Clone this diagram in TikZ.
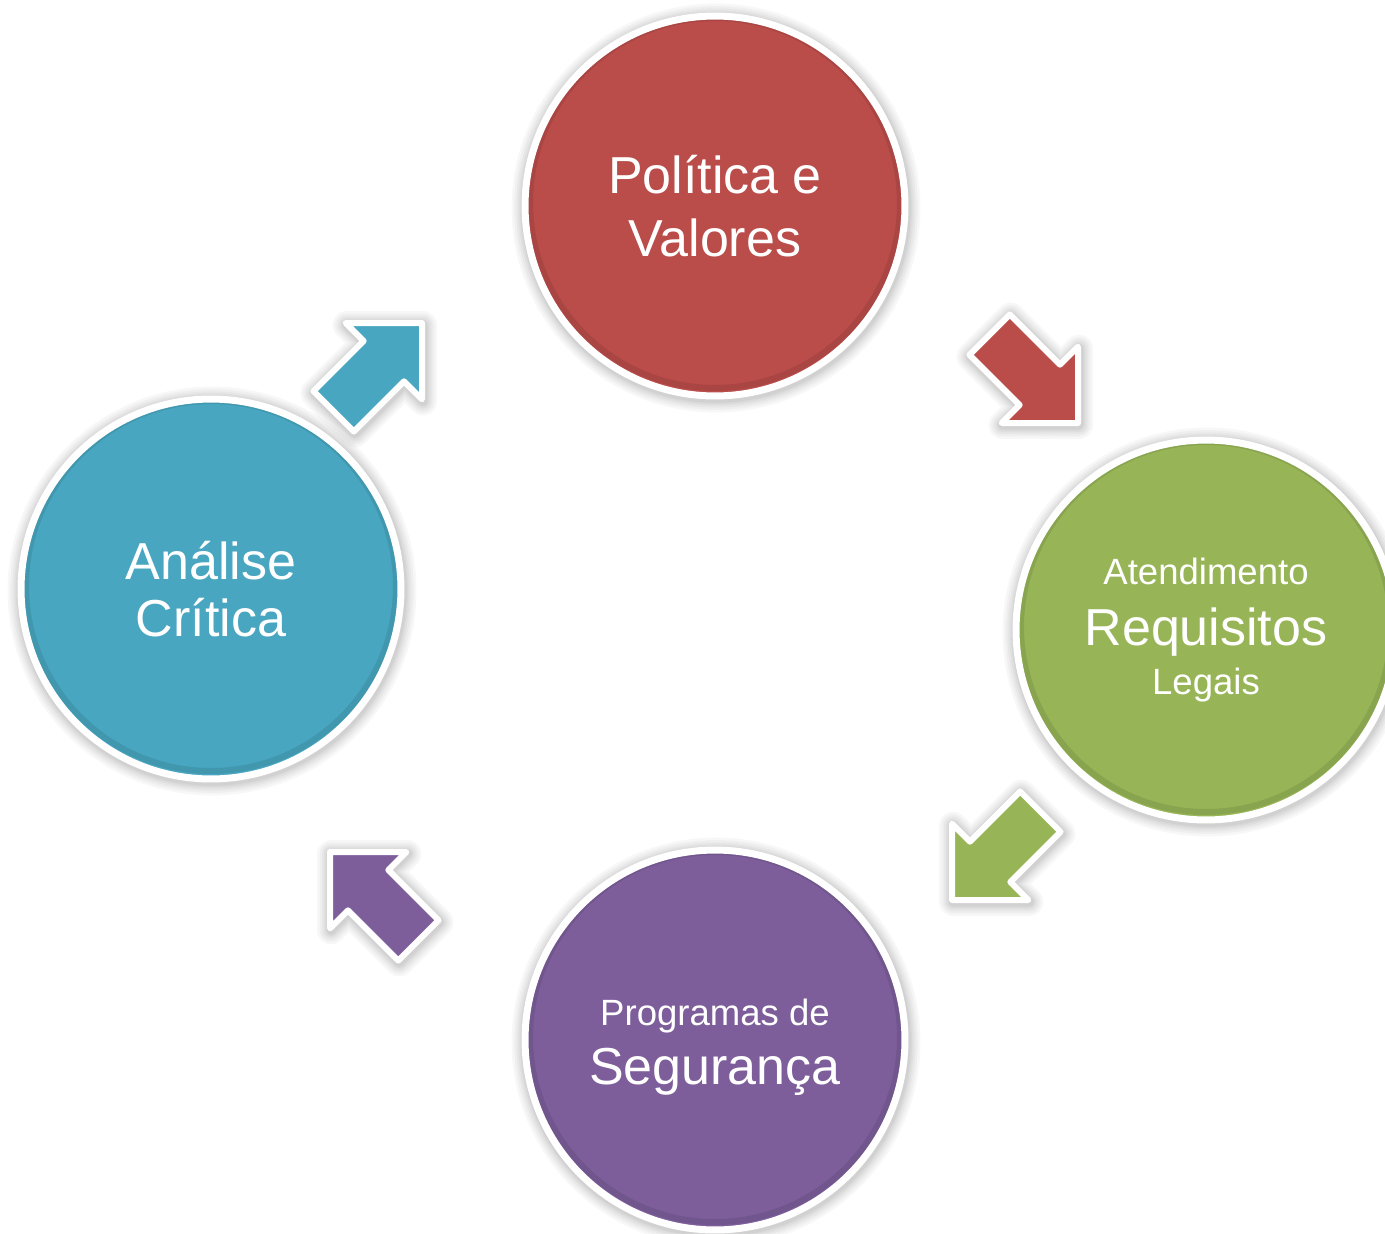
\documentclass[tikz,border=0pt]{standalone}
\usepackage{fontspec}
\setmainfont{Liberation Sans}
\usetikzlibrary{shapes.arrows}

\definecolor{polred}{RGB}{186,76,74}
\definecolor{reqgreen}{RGB}{151,181,87}
\definecolor{segpurple}{RGB}{125,94,155}
\definecolor{anablue}{RGB}{72,166,192}

\tikzset{
  halo ring/.style={preaction={draw=black, draw opacity=0.03, line width=#1, line join=round, transform canvas={xshift=0.02cm, yshift=-0.04cm}}},
  soft halo/.style={halo ring=#1+0.44cm, halo ring=#1+0.34cm, halo ring=#1+0.25cm, halo ring=#1+0.17cm, halo ring=#1+0.10cm, halo ring=#1+0.05cm}
}

\begin{document}
\begin{tikzpicture}[x=0.02cm, y=-0.02cm,
  stage node/.style={circle, draw=white, line width=0.14cm, minimum size=7.6cm, inner sep=0pt, text=white, align=center, soft halo=0.14cm,
    path picture={\draw[black, opacity=0.09, line width=0.12cm] ([yshift=0.06cm]path picture bounding box.center) circle (3.7cm);}},
  arrow node/.style={single arrow, draw=white, line width=0.12cm, line join=round, single arrow tip angle=90, single arrow head extend=0.51cm, minimum height=2.5cm, inner xsep=0pt, inner ysep=0.51cm, anchor=tip, soft halo=0.12cm},
  big text/.style={font=\fontsize{29.6}{35.8}\selectfont},
  small text/.style={font=\fontsize{20.8}{27.8}\selectfont}]

  \path[fill=white, use as bounding box] (0,0) rectangle (1385,1233);

  \node[stage node, fill=polred, big text] (politica) at (715,206) {Política e\\Valores};
  \node[stage node, fill=reqgreen, small text] (requisitos) at (1206,630) {Atendimento\\[6.8pt]{\fontsize{29.6}{0}\selectfont Requisitos}\\Legais};
  \node[stage node, fill=segpurple, small text, font=\fontsize{20.8}{33.5}\selectfont] (seguranca) at (715,1040) {\rule{0pt}{0.82cm}Programas de\\{\fontsize{29.6}{0}\selectfont Segurança}};
  \node[stage node, fill=anablue, big text, font=\fontsize{29.6}{32.5}\selectfont] (analise) at (211,589) {Análise\\Crítica};

  \node[arrow node, fill=anablue, rotate=45] (ap) at (425,320) {};
  \node[arrow node, fill=polred, rotate=-45] (pr) at (1081,426) {};
  \node[arrow node, fill=reqgreen, rotate=-135] (rs) at (949,903) {};
  \node[arrow node, fill=segpurple, rotate=135] (sa) at (327,849) {};
\end{tikzpicture}
\end{document}
